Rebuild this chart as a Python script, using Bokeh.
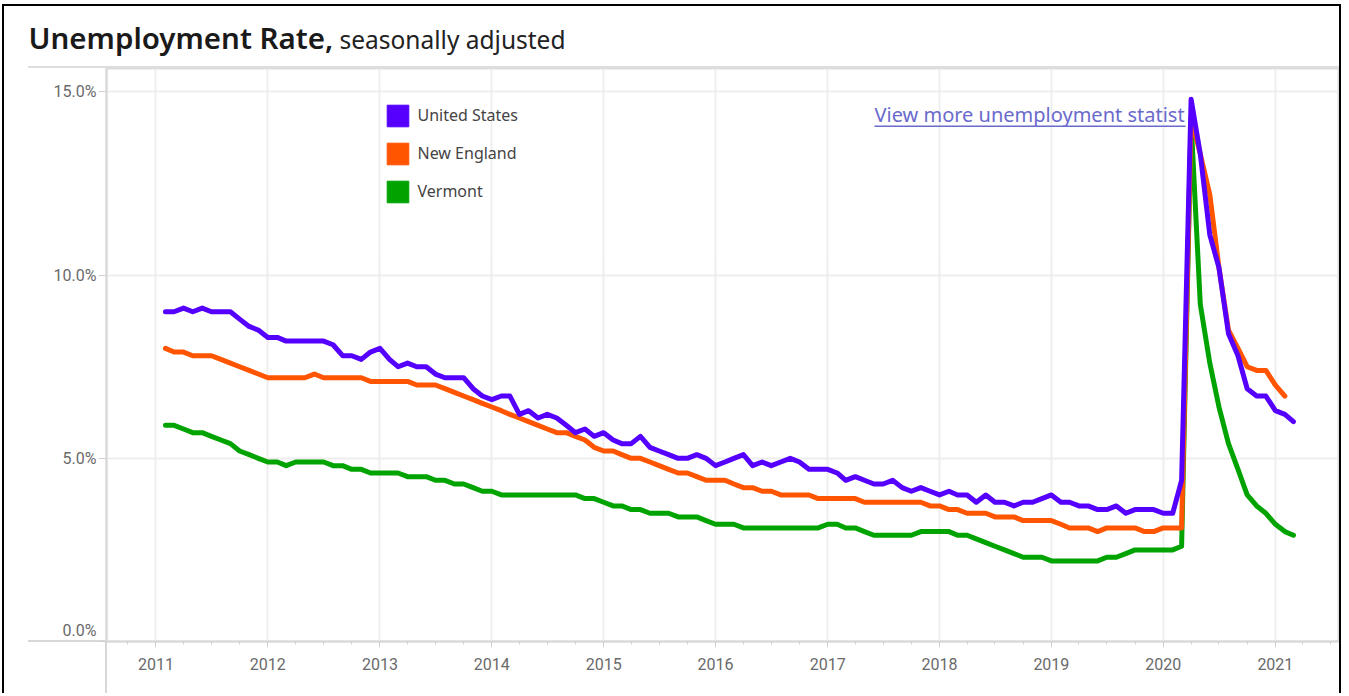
import pandas as pd
from bokeh.plotting import figure
from bokeh.layouts import column
from bokeh.models import (Range1d, FixedTicker, PrintfTickFormatter, DatetimeTickFormatter,
                          Legend, LegendItem, Label, BoxAnnotation, ColumnDataSource, Div)
from bokeh.embed import file_html
from bokeh.resources import INLINE

# ---------------- data (monthly, seasonally adjusted, %) ----------------
series_names = ["United States", "New England", "Vermont"]
series_colors = ["#5500ff", "#ff5500", "#00a300"]
first_month = "2011-02-01"

us = [
    9.0, 9.0, 9.1, 9.0, 9.1, 9.0, 9.0, 9.0, 8.8, 8.6, 8.5,
    8.3, 8.3, 8.2, 8.2, 8.2, 8.2, 8.2, 8.1, 7.8, 7.8, 7.7, 7.9,
    8.0, 7.7, 7.5, 7.6, 7.5, 7.5, 7.3, 7.2, 7.2, 7.2, 6.9, 6.7,
    6.6, 6.7, 6.7, 6.2, 6.3, 6.1, 6.2, 6.1, 5.9, 5.7, 5.8, 5.6,
    5.7, 5.5, 5.4, 5.4, 5.6, 5.3, 5.2, 5.1, 5.0, 5.0, 5.1, 5.0,
    4.8, 4.9, 5.0, 5.1, 4.8, 4.9, 4.8, 4.9, 5.0, 4.9, 4.7, 4.7,
    4.7, 4.6, 4.4, 4.5, 4.4, 4.3, 4.3, 4.4, 4.2, 4.1, 4.2, 4.1,
    4.0, 4.1, 4.0, 4.0, 3.8, 4.0, 3.8, 3.8, 3.7, 3.8, 3.8, 3.9,
    4.0, 3.8, 3.8, 3.7, 3.7, 3.6, 3.6, 3.7, 3.5, 3.6, 3.6, 3.6,
    3.5, 3.5, 4.4, 14.8, 13.3, 11.1, 10.2, 8.4, 7.8, 6.9, 6.7, 6.7,
    6.3, 6.2, 6.0,
]

new_england = [
    8.0, 7.9, 7.9, 7.8, 7.8, 7.8, 7.7, 7.6, 7.5, 7.4, 7.3,
    7.2, 7.2, 7.2, 7.2, 7.2, 7.3, 7.2, 7.2, 7.2, 7.2, 7.2, 7.1,
    7.1, 7.1, 7.1, 7.1, 7.0, 7.0, 7.0, 6.9, 6.8, 6.7, 6.6, 6.5,
    6.4, 6.3, 6.2, 6.1, 6.0, 5.9, 5.8, 5.7, 5.7, 5.6, 5.5, 5.3,
    5.2, 5.2, 5.1, 5.0, 5.0, 4.9, 4.8, 4.7, 4.6, 4.6, 4.5, 4.4,
    4.4, 4.4, 4.3, 4.2, 4.2, 4.1, 4.1, 4.0, 4.0, 4.0, 4.0, 3.9,
    3.9, 3.9, 3.9, 3.9, 3.8, 3.8, 3.8, 3.8, 3.8, 3.8, 3.8, 3.7,
    3.7, 3.6, 3.6, 3.5, 3.5, 3.5, 3.4, 3.4, 3.4, 3.3, 3.3, 3.3,
    3.3, 3.2, 3.1, 3.1, 3.1, 3.0, 3.1, 3.1, 3.1, 3.1, 3.0, 3.0,
    3.1, 3.1, 3.1, 14.3, 13.3, 12.2, 10.2, 8.5, 8.0, 7.5, 7.4, 7.4,
    7.0, 6.7,
]

vermont = [
    5.9, 5.9, 5.8, 5.7, 5.7, 5.6, 5.5, 5.4, 5.2, 5.1, 5.0,
    4.9, 4.9, 4.8, 4.9, 4.9, 4.9, 4.9, 4.8, 4.8, 4.7, 4.7, 4.6,
    4.6, 4.6, 4.6, 4.5, 4.5, 4.5, 4.4, 4.4, 4.3, 4.3, 4.2, 4.1,
    4.1, 4.0, 4.0, 4.0, 4.0, 4.0, 4.0, 4.0, 4.0, 4.0, 3.9, 3.9,
    3.8, 3.7, 3.7, 3.6, 3.6, 3.5, 3.5, 3.5, 3.4, 3.4, 3.4, 3.3,
    3.2, 3.2, 3.2, 3.1, 3.1, 3.1, 3.1, 3.1, 3.1, 3.1, 3.1, 3.1,
    3.2, 3.2, 3.1, 3.1, 3.0, 2.9, 2.9, 2.9, 2.9, 2.9, 3.0, 3.0,
    3.0, 3.0, 2.9, 2.9, 2.8, 2.7, 2.6, 2.5, 2.4, 2.3, 2.3, 2.3,
    2.2, 2.2, 2.2, 2.2, 2.2, 2.2, 2.3, 2.3, 2.4, 2.5, 2.5, 2.5,
    2.5, 2.5, 2.6, 14.2, 9.2, 7.6, 6.4, 5.4, 4.7, 4.0, 3.7, 3.5,
    3.2, 3.0, 2.9,
]

tick_years = list(range(2011, 2022))
y_ticks = [0, 5, 10, 15]

title_main = "Unemployment Rate,"
title_sub = "seasonally adjusted"
link_text = "View more unemployment statist"

# ---------------- layout ----------------
W = 1335          # content width
HEAD = 62         # title strip height
HF = 625          # figure height
FL = 102          # frame left inside figure
FB = 573          # frame bottom inside figure


def ms(ts):
    return pd.Timestamp(ts).value / 1e6


x_start = pd.Timestamp("2011-01-01") - pd.Timedelta(days=161.4)
x_end = pd.Timestamp("2011-01-01") + pd.Timedelta(days=3859)

# light frame-line extensions drawn as the figure's page background
ext = "linear-gradient(#d8d8d8,#d8d8d8)"
bg = (f"{ext} 24px {FB - 1}px / {FL - 24}px 2px no-repeat, "
      f"{ext} {FL - 1}px {FB}px / 2px {HF - FB}px no-repeat, white")

p = figure(width=W, height=HF, x_axis_type="datetime",
           x_range=Range1d(x_start, x_end), y_range=Range1d(0, 15.64),
           output_backend="svg", toolbar_location=None,
           min_border_left=FL, min_border_right=1, min_border_top=0,
           min_border_bottom=HF - FB, styles={"background": bg})
p.title.visible = False

p.background_fill_color = "white"
p.border_fill_alpha = 0
p.outline_line_color = "#dddddd"
p.outline_line_width = 2

# axes
major = [ms(f"{y}-01-01") for y in tick_years]
minor = [ms(d) for d in pd.date_range("2010-07-01", "2021-07-01", freq="QS")]
p.xaxis.ticker = FixedTicker(ticks=major, minor_ticks=minor)
p.xaxis.formatter = DatetimeTickFormatter(years="%Y", months="%Y", days="%Y", hours="%Y")
p.yaxis.ticker = FixedTicker(ticks=y_ticks, minor_ticks=[])
p.yaxis.formatter = PrintfTickFormatter(format="%.1f%%")
# the bottom label sits just above the axis line, as in the original
p.yaxis.major_label_overrides = {0: "0.0%\n"}

for ax in (p.xaxis[0], p.yaxis[0]):
    ax.axis_line_color = "#d8d8d8"
    ax.axis_line_width = 2
    ax.major_tick_line_color = "#d0d0d0"
    ax.minor_tick_line_color = "#d0d0d0"
    ax.major_label_text_font = "Roboto"
    ax.major_label_text_font_size = "16px"
    ax.major_label_text_color = "#6a6a6a"

p.xaxis.major_tick_out = 6
p.xaxis.major_tick_in = 0
p.xaxis.minor_tick_out = 3
p.xaxis.minor_tick_in = 0
p.xaxis.major_label_standoff = 10

p.yaxis.major_tick_out = 8
p.yaxis.major_tick_in = 0
p.yaxis.minor_tick_out = 0
p.yaxis.minor_tick_in = 0
p.yaxis.major_label_standoff = 2

p.xgrid.grid_line_color = "#eeeeee"
p.xgrid.grid_line_width = 2
p.ygrid.grid_line_color = "#eeeeee"
p.ygrid.grid_line_width = 2

# lines (drawn so that United States is on top)
all_series = [us, new_england, vermont]
for vals, c in reversed(list(zip(all_series, series_colors))):
    src = ColumnDataSource(dict(
        x=pd.date_range(first_month, periods=len(vals), freq="MS"), y=vals))
    p.line("x", "y", source=src, line_color=c, line_width=5,
           line_join="round", line_cap="round")

# legend swatches (square); the glyphs themselves have no visible data
nan = float("nan")
swatches = []
for c in series_colors:
    swatches.append(p.quad(left=[nan], right=[nan], top=[nan], bottom=[nan],
                           fill_color=c, line_color=c, line_width=1))

legend = Legend(items=[LegendItem(label=n, renderers=[r], index=0)
                       for n, r in zip(series_names, swatches)],
                location=(278, 436), orientation="vertical",
                glyph_width=27, glyph_height=27, spacing=11, padding=0, margin=0,
                label_standoff=7, label_text_font="Noto Sans", label_text_font_size="16px",
                label_text_color="#444444", label_text_baseline="middle",
                background_fill_alpha=0, border_line_alpha=0)
p.add_layout(legend)

# link text with underline (inside the plot area)
p.add_layout(Label(x=870, y=46, x_units="canvas", y_units="canvas", text=link_text,
                   text_font="Noto Sans", text_font_size="20px", text_color="#6a6acd",
                   text_baseline="alphabetic"))
p.add_layout(BoxAnnotation(left=870, right=1181, top=57, bottom=58.6,
                           left_units="canvas", right_units="canvas",
                           top_units="canvas", bottom_units="canvas",
                           fill_color="#6a6acd", fill_alpha=1, line_alpha=0))

# title strip
head_html = f"""
<div style="position:relative;width:{W}px;height:{HEAD}px;font-family:'Noto Sans';white-space:nowrap;overflow:hidden;">
  <span style="position:absolute;left:25px;top:17px;font-size:29.5px;line-height:29.5px;font-weight:600;color:#1a1a1a;">{title_main}</span>
  <span style="position:absolute;left:336px;top:22px;font-size:24.5px;line-height:24.5px;color:#222222;">{title_sub}</span>
  <div style="position:absolute;left:24px;right:0;top:{HEAD - 2}px;height:2px;background:#dddddd;"></div>
</div>
"""
head = Div(text=head_html, width=W, height=HEAD, margin=(0, 0, 0, 0))

layout = column(head, p, spacing=0,
                styles={"border-top": "2.5px solid black", "border-left": "2.5px solid black",
                        "border-right": "2.5px solid black", "margin-top": "3.5px",
                        "margin-left": "1.5px"})

open("out.html", "w").write(file_html(layout, INLINE))
